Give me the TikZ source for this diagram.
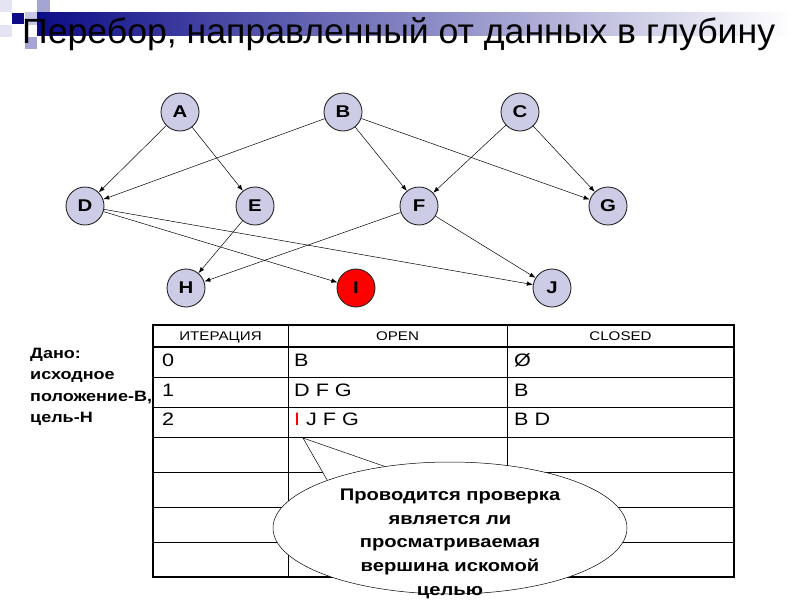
\documentclass[tikz,border=0pt]{standalone}
\usepackage{fontspec}
\setmainfont{Liberation Sans}[FakeStretch=1.2]
\usepackage{graphicx}
\usetikzlibrary{arrows.meta,positioning,shapes.geometric}
\definecolor{pixNavy}{RGB}{12,12,135}
\definecolor{pixLav}{RGB}{165,165,212}
\definecolor{pixPale}{RGB}{200,200,230}
\definecolor{pixLight}{RGB}{228,228,242}
\definecolor{vertFill}{RGB}{204,204,230}
\definecolor{goalRed}{RGB}{255,0,0}
\newcommand{\Ired}{\textcolor{goalRed}{I}}
\tikzset{
  vert/.style={circle,draw=black!85,line width=0.9pt,fill=vertFill,minimum size=38pt,inner sep=0pt,font=\fontsize{17}{17}\selectfont\bfseries},
  link/.style={-{Latex[length=6pt,width=4.5pt]},line width=0.5pt},
  head/.style={anchor=base,inner sep=0pt,font=\fontsize{12.6}{12.6}\selectfont},
  cell/.style={anchor=base west,inner sep=0pt,font=\fontsize{18}{18}\selectfont},
}

\begin{document}
\begin{tikzpicture}[x=1pt,y=-1pt]
\useasboundingbox (0,0) rectangle (800,600);
% header band
\shade[left color=pixNavy,right color=white] (37,12) rectangle (792,35);
\fill[pixLight] (0,0) rectangle (12,12);
\fill[pixLight] (0,25) rectangle (12,37);
\fill[pixLav] (37,0) rectangle (50,12);
\fill[pixPale] (25,12) rectangle (37,25);
\fill[pixLav] (25,37) rectangle (37,49);
\fill[pixNavy] (12,13) rectangle (24,24);
\node[anchor=base west,inner sep=0pt] (title) at (22,43) {\resizebox{753pt}{\height}{\fontsize{35}{35}\selectfont Перебор, направленный от данных в глубину}};

% graph
\node[vert] (A) at (180,112) {A};
\node[vert] (B) at (343,112) {B};
\node[vert] (C) at (520,112) {C};
\node[vert] (D) at (85,206) {D};
\node[vert] (E) at (255,206) {E};
\node[vert] (F) at (419,206) {F};
\node[vert] (G) at (608,206) {G};
\node[vert] (H) at (186,288) {H};
\node[vert,fill=goalRed] (I) at (356,288) {I};
\node[vert] (J) at (552,288) {J};
\draw[link] (A) -- (D);
\draw[link] (A) -- (E);
\draw[link] (B) -- (D);
\draw[link] (B) -- (F);
\draw[link] (B) -- (G);
\draw[link] (C) -- (F);
\draw[link] (C) -- (G);
\draw[link] (D) -- (I);
\draw[link] (D) -- (J);
\draw[link] (E) -- (H);
\draw[link] (F) -- (H);
\draw[link] (F) -- (J);

\node[anchor=north west,align=left,inner sep=0pt,font=\fontsize{15}{21.3}\selectfont\bfseries] (given) at (30,348) {Дано:\\исходное\\положение-В,\\цель-Н};

% table
\foreach \y in {377,407,437,472,507,542}
  \draw[line width=0.8pt] (153,\y) -- (734,\y);
\foreach \x in {288,507}
  \draw[line width=0.8pt] (\x,325) -- (\x,577);
\draw[line width=2.4pt] (153,347) -- (734,347);
\draw[line width=2.4pt] (153,325) rectangle (734,577);
\node[head] (hIter) at (220.5,340) {ИТЕРАЦИЯ};
\node[head] (hOpen) at (397.5,340) {OPEN};
\node[head] (hClosed) at (620.5,340) {CLOSED};
\node[cell] (it0) at (162,366) {0};
\node[cell] (op0) at (294,366) {B};
\node[cell] (cl0) at (514,366) {Ø};
\node[cell] (it1) at (162,396) {1};
\node[cell] (op1) at (294,396) {D F G};
\node[cell] (cl1) at (514,396) {B};
\node[cell] (it2) at (162,425) {2};
\node[cell] (op2) at (294,425) {\Ired{} J F G};
\node[cell] (cl2) at (514,425) {B D};

% callout
\coordinate (tip) at (303,438);
\draw[fill=white,line width=0.5pt] (330,485) -- (tip) -- (395,470);
\node[ellipse,draw,fill=white,line width=0.5pt,minimum width=354pt,minimum height=132pt] (bubble) at (450,528) {};
\node[anchor=north,align=center,inner sep=0pt,font=\fontsize{16.8}{23.6}\selectfont\bfseries] (note) at (450,489) {Проводится проверка\\является ли\\просматриваемая\\вершина искомой\\целью};
\end{tikzpicture}
\end{document}
